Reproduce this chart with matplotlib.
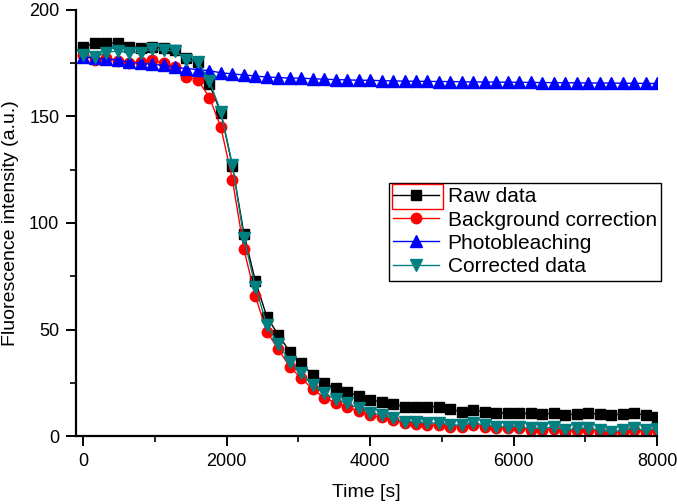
import numpy as np
import matplotlib
matplotlib.use("Agg")
import matplotlib.pyplot as plt
from matplotlib.ticker import MultipleLocator
from matplotlib.patches import Rectangle

plt.rcParams['font.family'] = ['Liberation Sans', 'DejaVu Sans']

# Time axis: 51 samples every 160 s
time_s = [i * 160 for i in range(51)]

raw_data = [182.8, 184.4, 184.7, 184.4, 182.8, 182.3, 182.8, 182.0, 181.0, 177.3,
            175.7, 165.2, 151.6, 126.8, 95.0, 72.8, 56.0, 47.4, 39.6, 34.1,
            28.6, 24.7, 22.4, 20.5, 18.7, 16.9, 16.1, 15.0, 13.8, 13.5,
            13.8, 13.8, 12.5, 11.4, 12.2, 11.4, 11.0, 10.6, 10.6, 10.6,
            10.3, 10.6, 9.9, 10.3, 10.6, 10.3, 9.9, 10.3, 10.6, 9.9, 9.1]

background_correction = [178.9, 176.5, 177.6, 176.2, 175.2, 175.7, 176.5, 175.0, 173.4, 168.7,
                         167.1, 158.9, 144.9, 120.3, 87.7, 65.6, 49.0, 40.7, 32.5, 27.1,
                         22.0, 18.0, 15.6, 13.6, 11.6, 9.8, 8.8, 7.4, 6.0, 5.8,
                         5.0, 5.2, 4.4, 4.4, 5.0, 4.4, 3.6, 3.6, 3.6, 2.8,
                         2.8, 3.4, 2.0, 2.8, 2.8, 2.0, 1.4, 2.0, 2.8, 2.0, 2.6]

photobleaching = [178.0, 177.5, 177.0, 176.5, 175.5, 175.0, 174.5, 174.0, 173.0, 172.5,
                  172.0, 171.5, 170.5, 170.0, 169.5, 169.0, 168.5, 168.3, 168.0, 168.0,
                  167.7, 167.5, 167.3, 167.2, 167.0, 167.0, 166.8, 166.7, 166.6, 166.5,
                  166.5, 166.4, 166.4, 166.3, 166.2, 166.2, 166.1, 166.1, 166.0, 166.0,
                  165.9, 165.9, 165.8, 165.8, 165.7, 165.7, 165.7, 165.6, 165.6, 165.5, 165.5]

corrected_data = [179.0, 177.8, 180.0, 180.8, 180.0, 180.0, 181.6, 181.0, 180.8, 176.5,
                  175.7, 166.6, 152.2, 127.2, 93.0, 70.1, 52.1, 43.2, 34.9, 29.4,
                  23.9, 20.0, 17.2, 15.3, 13.0, 11.0, 9.9, 8.3, 6.7, 6.7,
                  6.0, 6.2, 5.2, 5.2, 6.0, 5.2, 4.4, 4.4, 4.4, 3.6,
                  3.6, 4.2, 2.8, 3.6, 3.6, 2.8, 2.0, 2.8, 3.6, 2.8, 3.4]

series_labels = ["Raw data", "Background correction", "Photobleaching", "Corrected data"]

fig = plt.figure(figsize=(6.77, 5.04), dpi=100)
ax = fig.add_axes([0.1123, 0.1349, 0.8582, 0.8453])

ax.plot(time_s, raw_data, color='black', marker='s', markersize=7.2, lw=1.0,
        label=series_labels[0])
ax.plot(time_s, background_correction, color='red', marker='o', markersize=7.5, lw=1.0,
        label=series_labels[1])
ax.plot(time_s, photobleaching, color='blue', marker='^', markersize=8.5, lw=1.0,
        label=series_labels[2])
ax.plot(time_s, corrected_data, color='#008080', marker='v', markersize=8.5, lw=1.0,
        label=series_labels[3])

ax.set_xlim(-100, 8000)
ax.set_ylim(0, 200)
ax.xaxis.set_major_locator(MultipleLocator(2000))
ax.xaxis.set_minor_locator(MultipleLocator(1000))
ax.yaxis.set_major_locator(MultipleLocator(50))
ax.yaxis.set_minor_locator(MultipleLocator(25))

for s in ['top', 'right']:
    ax.spines[s].set_visible(False)
for s in ['left', 'bottom']:
    ax.spines[s].set_linewidth(1.6)

ax.tick_params(axis='both', which='major', direction='out', length=7, width=1.4,
               labelsize=13, colors='black', pad=5)
ax.tick_params(axis='both', which='minor', direction='out', length=4, width=1.2)

ax.set_xlabel("Time [s]", fontsize=14, labelpad=10)
ax.set_ylabel("Fluorescence intensity (a.u.)", fontsize=14, labelpad=7)

leg = ax.legend(loc='upper left', bbox_to_anchor=(0.539, 0.594), borderaxespad=0,
                fontsize=15, frameon=True, fancybox=False, edgecolor='black',
                framealpha=1, handlelength=2.2, handletextpad=0.4, labelspacing=0.2,
                borderpad=0.2, handleheight=0.8)
leg.get_frame().set_linewidth(1.0)

# red selection box around the first legend handle (as in the original)
fig.canvas.draw()
renderer = fig.canvas.get_renderer()
fb = leg.get_frame().get_window_extent(renderer)
tb = leg.get_texts()[0].get_window_extent(renderer)
inv = fig.transFigure.inverted()
x0, y0 = inv.transform((fb.x0 + 3, tb.y0 - 3))
x1, y1 = inv.transform((tb.x0 - 5, tb.y1 + 3))
fig.add_artist(Rectangle((x0, y0), x1 - x0, y1 - y0, transform=fig.transFigure,
                         fill=False, edgecolor='red', lw=1.0, zorder=10))

fig.savefig("out.png", dpi=100)
